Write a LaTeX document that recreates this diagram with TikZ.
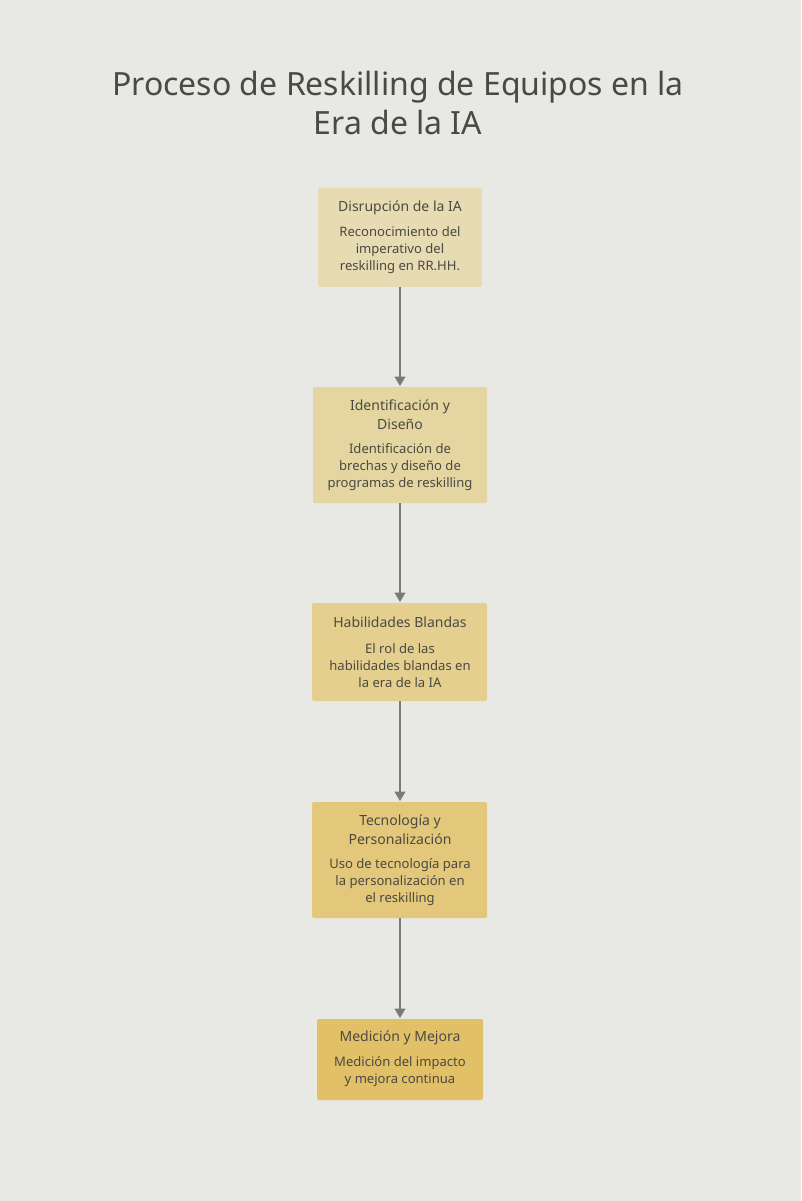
\documentclass[tikz,border=0pt]{standalone}
\usepackage{fontspec}
\setmainfont{Noto Sans}
\usetikzlibrary{arrows.meta}
\definecolor{bg}{HTML}{E8E8E5}
\definecolor{tx}{HTML}{4A4A42}
\definecolor{ca}{HTML}{E6DBB2}
\definecolor{cb}{HTML}{E5D5A0}
\definecolor{cc}{HTML}{E4CF8E}
\definecolor{cd}{HTML}{E3C77A}
\definecolor{ce}{HTML}{E2C068}
\definecolor{ar}{HTML}{7A7A78}
\tikzset{
 stepbox/.style={rounded corners=1.5pt, text=tx, align=center, inner sep=0pt},
 ttl/.style={font=\fontsize{10.5pt}{14pt}\selectfont\bfseries},
 dsc/.style={font=\fontsize{9.8pt}{12.8pt}\selectfont},
 conn/.style={ar, line width=1.2pt, -{Triangle[length=7pt,width=8pt]}}
}
\begin{document}
\begin{tikzpicture}[x=0.75pt,y=-0.75pt]
\useasboundingbox[fill=bg] (0,0) rectangle (801,1201);
\node[text=tx, align=center, font=\fontsize{24pt}{29pt}\selectfont\bfseries] (title) at (398,103) {Proceso de Reskilling de Equipos en la\\Era de la IA};
% boxes
\fill[ca, rounded corners=1.5pt] (318,188) rectangle (482,287);
\fill[cb, rounded corners=1.5pt] (313,387) rectangle (487,503);
\fill[cc, rounded corners=1.5pt] (312,603) rectangle (487,701);
\fill[cd, rounded corners=1.5pt] (312,802) rectangle (487,918);
\fill[ce, rounded corners=1.5pt] (317,1019) rectangle (483,1100);
\coordinate (b1) at (400,287); \coordinate (t2) at (400,386);
\coordinate (b2) at (400,503); \coordinate (t3) at (400,602);
\coordinate (b3) at (400,701); \coordinate (t4) at (400,801);
\coordinate (b4) at (400,918); \coordinate (t5) at (400,1018);
\node[stepbox,ttl] (h1) at (400,208) {Disrupción de la IA};
\node[stepbox,dsc] (d1) at (400,250) {Reconocimiento del\\imperativo del\\reskilling en RR.HH.};
\node[stepbox,ttl] (h2) at (400,415) {Identificación y\\Diseño};
\node[stepbox,dsc] (d2) at (400,467) {Identificación de\\brechas y diseño de\\programas de reskilling};
\node[stepbox,ttl] (h3) at (400,622) {Habilidades Blandas};
\node[stepbox,dsc] (d3) at (400,666) {El rol de las\\habilidades blandas en\\la era de la IA};
\node[stepbox,ttl] (h4) at (400,830) {Tecnología y\\Personalización};
\node[stepbox,dsc] (d4) at (400,882) {Uso de tecnología para\\la personalización en\\el reskilling};
\node[stepbox,ttl] (h5) at (400,1038) {Medición y Mejora};
\node[stepbox,dsc] (d5) at (400,1072) {Medición del impacto\\y mejora continua};
\draw[conn] (b1) -- (t2);
\draw[conn] (b2) -- (t3);
\draw[conn] (b3) -- (t4);
\draw[conn] (b4) -- (t5);
\end{tikzpicture}
\end{document}
